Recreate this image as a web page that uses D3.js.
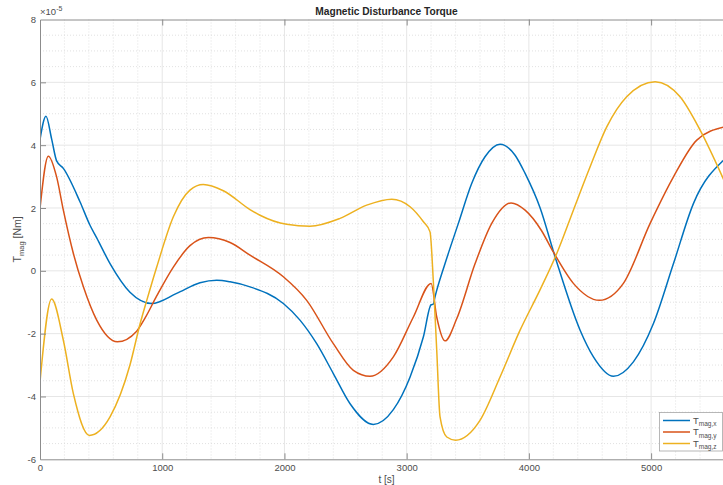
<!DOCTYPE html>
<html>
<head>
<meta charset="utf-8">
<script src="https://cdn.jsdelivr.net/npm/d3@7"></script>
<style>
body { margin: 0; background: #fff; }
svg { display: block; font-family: "Liberation Sans", Arial, sans-serif; }
</style>
</head>
<body>
<svg id="chart" width="723" height="485"></svg>
<script>
// values, y in units of 1e-5 Nm
var tX = [0, 49, 95, 136, 191, 327, 409, 464, 573, 736, 914, 1118, 1309, 1446, 1555, 1718, 1991, 2127, 2264, 2400, 2537, 2727, 2891, 3028, 3137, 3200, 3218, 3232, 3314, 3423, 3532, 3641, 3764, 3887, 3969, 4092, 4214, 4419, 4528, 4692, 4855, 5019, 5183, 5346, 5600];
var magX = [4.18, 4.92, 4.2, 3.5, 3.26, 2.2, 1.45, 1.05, 0.23, -0.68, -1.04, -0.72, -0.38, -0.30, -0.35, -0.51, -1.04, -1.57, -2.32, -3.27, -4.23, -4.89, -4.42, -3.38, -2.10, -1.08, -1.06, -0.83, 0.23, 1.51, 2.78, 3.63, 4.03, 3.68, 3.10, 2.0, 0.45, -1.89, -2.74, -3.36, -2.9, -1.68, 0.23, 2.14, 3.55];

var tY = [0, 68, 136, 191, 273, 355, 464, 633, 791, 860, 955, 1091, 1227, 1378, 1555, 1718, 1991, 2182, 2400, 2564, 2700, 2891, 3055, 3200, 3246, 3314, 3410, 3560, 3696, 3854, 3969, 4100, 4200, 4364, 4577, 4773, 4992, 5183, 5374, 5600];
var magY = [1.98, 3.65, 2.99, 1.93, 0.55, -0.51, -1.57, -2.26, -1.92, -1.5, -0.8, 0.12, 0.8, 1.06, 0.9, 0.5, -0.19, -0.94, -2.32, -3.17, -3.36, -2.74, -1.47, -0.40, -1.47, -2.23, -1.52, 0.23, 1.51, 2.16, 1.93, 1.3, 0.60, -0.40, -0.94, -0.40, 1.51, 2.99, 4.16, 4.58];

var tZ = [0, 95, 191, 273, 404, 573, 736, 818, 873, 955, 1091, 1227, 1336, 1500, 1718, 1800, 2018, 2209, 2455, 2673, 2878, 3028, 3137, 3191, 3219, 3246, 3273, 3328, 3400, 3600, 3764, 3928, 4092, 4228, 4364, 4501, 4637, 4800, 5033, 5237, 5401, 5600];
var magZ = [-3.54, -0.90, -2.21, -3.91, -5.24, -4.65, -3.0, -1.7, -0.95, 0.12, 1.72, 2.57, 2.75, 2.55, 1.95, 1.77, 1.48, 1.42, 1.67, 2.09, 2.28, 2.04, 1.56, 1.24, -0.40, -2.53, -4.65, -5.29, -5.39, -4.76, -3.38, -1.89, -0.60, 0.55, 1.93, 3.31, 4.58, 5.54, 6.02, 5.54, 4.48, 2.85];

var seriesNames = ["mag,x", "mag,y", "mag,z"];
var colors = ["#0072BD", "#D95319", "#EDB120"];
var xTicks = [0, 1000, 2000, 3000, 4000, 5000];
var yTicks = [-6, -4, -2, 0, 2, 4, 6, 8];

var svg = d3.select('#chart');
var pLeft = 40, pRight = 733, pTop = 19.5, pBottom = 459.3;

var x = d3.scaleLinear().domain([0, 5670]).range([pLeft, pRight]);
var y = d3.scaleLinear().domain([-6, 8]).range([pBottom, pTop]);

// grid
var grid = svg.append('g');
grid.selectAll('line.mx').data(d3.range(200, 5670, 200).filter(function(d){ return d % 1000 != 0; }))
    .enter().append('line')
    .attr('x1', function(d){ return x(d); }).attr('x2', function(d){ return x(d); })
    .attr('y1', pTop).attr('y2', pBottom)
    .attr('stroke', '#d9d9d9').attr('stroke-dasharray', '1,2').attr('stroke-width', 0.8);
grid.selectAll('line.my').data(d3.range(-5.5, 8, 0.5).filter(function(d){ return d % 2 != 0; }))
    .enter().append('line')
    .attr('y1', function(d){ return y(d); }).attr('y2', function(d){ return y(d); })
    .attr('x1', pLeft).attr('x2', pRight)
    .attr('stroke', '#d9d9d9').attr('stroke-dasharray', '1,2').attr('stroke-width', 0.8);
grid.selectAll('line.gx').data(xTicks.slice(1))
    .enter().append('line')
    .attr('x1', function(d){ return x(d); }).attr('x2', function(d){ return x(d); })
    .attr('y1', pTop).attr('y2', pBottom)
    .attr('stroke', '#e6e6e6').attr('stroke-width', 1);
grid.selectAll('line.gy').data(yTicks.slice(1, -1))
    .enter().append('line')
    .attr('y1', function(d){ return y(d); }).attr('y2', function(d){ return y(d); })
    .attr('x1', pLeft).attr('x2', pRight)
    .attr('stroke', '#e6e6e6').attr('stroke-width', 1);

// curves
svg.append('clipPath').attr('id', 'clip').append('rect')
    .attr('x', pLeft).attr('y', pTop).attr('width', pRight - pLeft).attr('height', pBottom - pTop);

var line = d3.line().curve(d3.curveMonotoneX)
    .x(function(d){ return x(d[0]); }).y(function(d){ return y(d[1]); });

var series = [d3.zip(tX, magX), d3.zip(tY, magY), d3.zip(tZ, magZ)];
svg.append('g').attr('clip-path', 'url(#clip)')
    .selectAll('path').data(series).enter().append('path')
    .attr('d', line)
    .attr('fill', 'none')
    .attr('stroke', function(d, i){ return colors[i]; })
    .attr('stroke-width', 1.5);

// axes
var axisColor = '#8c8c8c', textColor = '#4d4d4d';
var xAxis = svg.append('g').attr('transform', 'translate(0,' + pBottom + ')')
    .call(d3.axisBottom(x).tickValues(xTicks).tickSize(-6).tickSizeOuter(0).tickPadding(5).tickFormat(d3.format('d')));
var xTop = svg.append('g').attr('transform', 'translate(0,' + pTop + ')')
    .call(d3.axisTop(x).tickValues(xTicks).tickSize(-6).tickSizeOuter(0).tickFormat(''));
var yAxis = svg.append('g').attr('transform', 'translate(' + pLeft + ',0)')
    .call(d3.axisLeft(y).tickValues(yTicks).tickSize(-6).tickSizeOuter(0).tickPadding(4)
        .tickFormat(function(d){ return String(d); }));

[xAxis, xTop, yAxis].forEach(function(a){
    a.select('.domain').attr('stroke', axisColor);
    a.selectAll('.tick line').attr('stroke', axisColor);
    a.selectAll('.tick text').attr('fill', textColor).style('font-size', '9.5px')
        .style('font-family', '"Liberation Sans", Arial, sans-serif');
});
yAxis.selectAll('.tick').filter(function(d){ return d == 8 || d == -6; }).select('line').remove();
xAxis.selectAll('.tick').filter(function(d){ return d == 0; }).select('line').remove();
xTop.selectAll('.tick').filter(function(d){ return d == 0; }).select('line').remove();

// exponent
var ex = svg.append('text').attr('x', 40).attr('y', 15).attr('fill', textColor).style('font-size', '9.5px');
ex.append('tspan').text('\u00d710');
ex.append('tspan').attr('dy', -4).style('font-size', '7px').text('-5');

// title and labels
svg.append('text').attr('x', (pLeft + pRight) / 2).attr('y', 15)
    .attr('text-anchor', 'middle').attr('fill', '#262626')
    .style('font-size', '10.2px').style('font-weight', 'bold')
    .text('Magnetic Disturbance Torque');

svg.append('text').attr('x', (pLeft + pRight) / 2).attr('y', 483)
    .attr('text-anchor', 'middle').attr('fill', textColor).style('font-size', '10px')
    .text('t [s]');

var yl = svg.append('text').attr('transform', 'translate(21,' + ((pTop + pBottom) / 2) + ') rotate(-90)')
    .attr('text-anchor', 'middle').attr('fill', textColor).style('font-size', '10.5px');
yl.append('tspan').text('T');
yl.append('tspan').attr('dy', 3).style('font-size', '7.5px').text('mag');
yl.append('tspan').attr('dy', -3).text('  [Nm]');

// legend
var lg = svg.append('g');
lg.append('rect').attr('x', 659.5).attr('y', 412.5).attr('width', 63).attr('height', 38.5)
    .attr('fill', '#fff').attr('stroke', '#a6a6a6').attr('stroke-width', 0.8);
seriesNames.forEach(function(name, i){
    var yy = 420.5 + i * 11.5;
    lg.append('line').attr('x1', 663).attr('x2', 690).attr('y1', yy).attr('y2', yy)
        .attr('stroke', colors[i]).attr('stroke-width', 1.5);
    var t = lg.append('text').attr('x', 693).attr('y', yy + 3).attr('fill', textColor).style('font-size', '9.5px');
    t.append('tspan').text('T');
    t.append('tspan').attr('dy', 2.5).style('font-size', '6.5px').text(name);
});
</script>
</body>
</html>
